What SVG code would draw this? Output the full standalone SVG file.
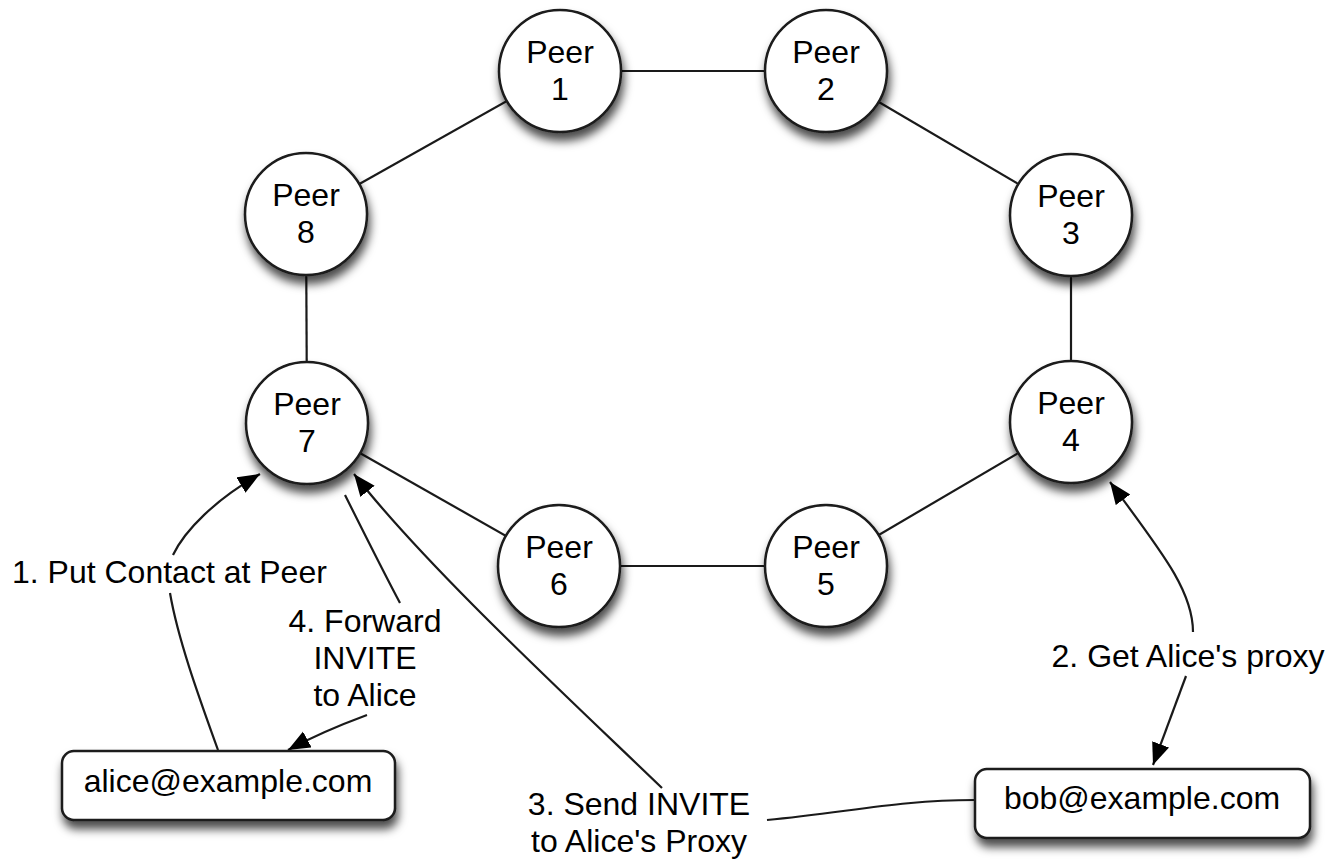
<svg xmlns="http://www.w3.org/2000/svg" width="1331" height="859" viewBox="0 0 1331 859">
  <defs>
    <filter id="shadow" x="-30%" y="-30%" width="160%" height="170%">
      <feDropShadow dx="2" dy="8" stdDeviation="5" flood-color="#000" flood-opacity="0.7"/>
    </filter>
    <marker id="arrow" markerUnits="userSpaceOnUse" markerWidth="24" markerHeight="20" refX="22" refY="9" orient="auto">
      <path d="M0,0 L22,9 L0,18 z" fill="#000"/>
    </marker>
    <style>
      .peer circle { fill: #fff; stroke: #1a1a1a; stroke-width: 2.5; filter: url(#shadow); }
      .box rect { fill: #fff; stroke: #1a1a1a; stroke-width: 2.5; filter: url(#shadow); }
      text { font-family: "Liberation Sans", Arial, Helvetica, sans-serif; font-size: 32px; fill: #000; }
      .c { text-anchor: middle; }
      .ring line { stroke: #1a1a1a; stroke-width: 2.2; }
      .flow path { fill: none; stroke: #1a1a1a; stroke-width: 2.2; }
      .arr { marker-end: url(#arrow); }
    </style>
  </defs>
  <rect width="1331" height="859" fill="#fff"/>

  <g id="connectors">
    <!-- ring links between peers -->
    <g class="ring">
      <line x1="560" y1="71" x2="826" y2="71"/>
      <line x1="826" y1="71" x2="1071" y2="215"/>
      <line x1="1071" y1="215" x2="1071" y2="422"/>
      <line x1="1071" y1="422" x2="826" y2="566"/>
      <line x1="826" y1="566" x2="559" y2="566"/>
      <line x1="559" y1="566" x2="307" y2="423"/>
      <line x1="307" y1="423" x2="306" y2="214"/>
      <line x1="306" y1="214" x2="560" y2="71"/>
    </g>
    <!-- message flows -->
    <g class="flow">
      <!-- 1. Put Contact at Peer -->
      <path d="M218,750 C200,700 178,640 170,593"/>
      <path class="arr" d="M173,555 C185,530 215,500 260,474"/>
      <!-- 2. Get Alice's proxy -->
      <path class="arr" d="M1193,632 C1193,590 1160,550 1110,482"/>
      <path class="arr" d="M1186,676 L1153,765"/>
      <!-- 3. Send INVITE to Alice's Proxy -->
      <path d="M975,800 C900,800 850,812 767,820"/>
      <path class="arr" d="M662,788 C560,690 425,565 354,474"/>
      <!-- 4. Forward INVITE to Alice -->
      <path d="M345,495 C365,535 385,575 400,603"/>
      <path class="arr" d="M367,715 C340,725 310,738 288,750"/>
    </g>
  </g>

  <g id="peer1" class="peer"><circle cx="560" cy="71" r="61"/><text class="c" x="560" y="63">Peer</text><text class="c" x="560" y="100">1</text></g>
  <g id="peer2" class="peer"><circle cx="826" cy="71" r="61"/><text class="c" x="826" y="63">Peer</text><text class="c" x="826" y="100">2</text></g>
  <g id="peer3" class="peer"><circle cx="1071" cy="215" r="61"/><text class="c" x="1071" y="207">Peer</text><text class="c" x="1071" y="244">3</text></g>
  <g id="peer4" class="peer"><circle cx="1071" cy="422" r="61"/><text class="c" x="1071" y="414">Peer</text><text class="c" x="1071" y="451">4</text></g>
  <g id="peer5" class="peer"><circle cx="826" cy="566" r="61"/><text class="c" x="826" y="558">Peer</text><text class="c" x="826" y="595">5</text></g>
  <g id="peer6" class="peer"><circle cx="559" cy="566" r="61"/><text class="c" x="559" y="558">Peer</text><text class="c" x="559" y="595">6</text></g>
  <g id="peer7" class="peer"><circle cx="307" cy="423" r="61"/><text class="c" x="307" y="415">Peer</text><text class="c" x="307" y="452">7</text></g>
  <g id="peer8" class="peer"><circle cx="306" cy="214" r="61"/><text class="c" x="306" y="206">Peer</text><text class="c" x="306" y="243">8</text></g>

  <g id="alice" class="box"><rect x="62" y="751" width="333" height="69" rx="12"/><text class="c" x="228" y="792">alice@example.com</text></g>
  <g id="bob" class="box"><rect x="975" y="769" width="335" height="69" rx="12"/><text class="c" x="1142" y="809">bob@example.com</text></g>

  <g id="labels">
    <text x="12" y="583">1. Put Contact at Peer</text>
    <text class="c" x="1188" y="667">2. Get Alice's proxy</text>
    <text class="c" x="639" y="815">3. Send INVITE</text>
    <text class="c" x="639" y="852">to Alice's Proxy</text>
    <text class="c" x="365" y="632">4. Forward</text>
    <text class="c" x="365" y="669">INVITE</text>
    <text class="c" x="365" y="706">to Alice</text>
  </g>
</svg>
